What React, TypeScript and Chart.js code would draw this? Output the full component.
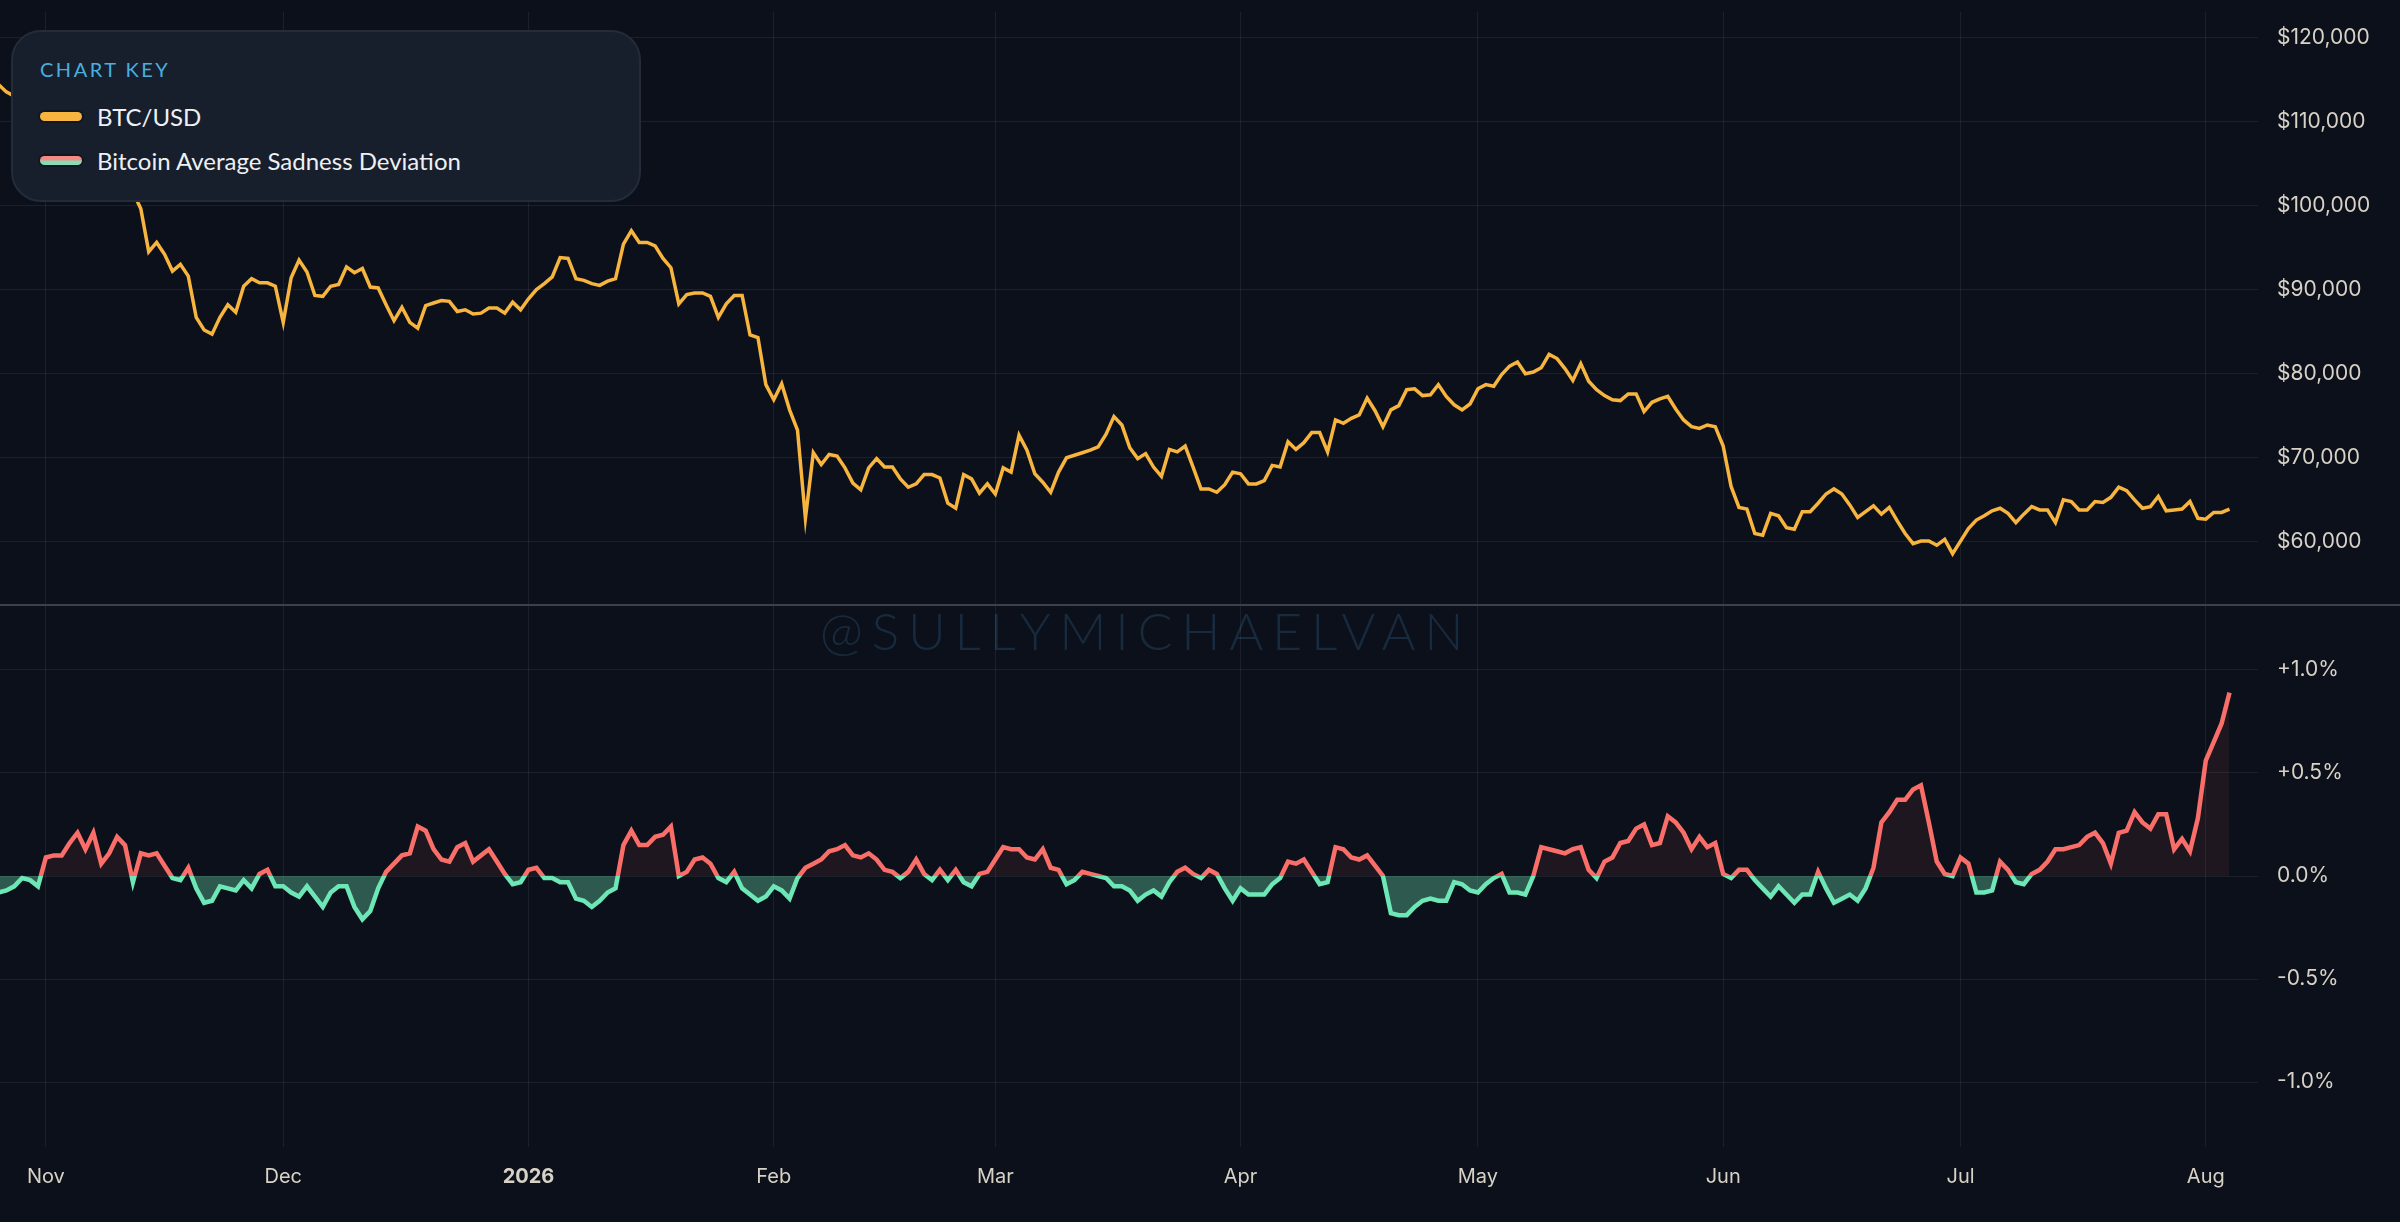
import React, { useEffect, useRef } from 'react'
import Chart, { ChartConfiguration } from 'chart.js/auto'

// day 0 = 1 Nov 2025, one point per day
const firstDay = -6
const monthTicks = [0, 30, 61, 92, 120, 151, 181, 212, 242, 273]
const monthLabels = ['Nov', 'Dec', '2026', 'Feb', 'Mar', 'Apr', 'May', 'Jun', 'Jul', 'Aug']
const priceTicks = [60000, 70000, 80000, 90000, 100000, 110000, 120000]
const sadnessTicks = [-1, -0.5, 0, 0.5, 1]

const btcOct = [114400, 113500, 113000, 110100, 108300, 109600]
const btcNov = [
  110100, 110600, 106500, 101600, 103900, 101300, 103300, 102300, 104700, 105900,
  103100, 101600, 99600, 94500, 95600, 94200, 92200, 93000, 91600, 86700,
  85200, 84700, 86700, 88200, 87300, 90400, 91300, 90800, 90800, 90400
]
const btcDec = [
  86100, 91400, 93500, 92100, 89300, 89200, 90400, 90600, 92700, 92000,
  92500, 90300, 90200, 88200, 86300, 87900, 86100, 85400, 88100, 88400,
  88700, 88600, 87400, 87600, 87100, 87200, 87800, 87800, 87200, 88500,
  87600
]
const btcJan = [
  88900, 90000, 90700, 91500, 93800, 93700, 91300, 91100, 90700, 90500,
  91000, 91300, 95400, 97000, 95600, 95600, 95200, 93700, 92600, 88300,
  89400, 89600, 89600, 89200, 86700, 88300, 89300, 89300, 84600, 84300,
  78700
]
const btcFeb = [
  76900, 78800, 75700, 73300, 62800, 70600, 69200, 70400, 70200, 68800,
  67000, 66200, 68800, 69900, 68900, 68900, 67500, 66500, 66900, 68000,
  68000, 67600, 64600, 64000, 68000, 67500, 65800, 66900
]
const btcMar = [
  65700, 68800, 68300, 72700, 70900, 68100, 67100, 65900, 68300, 70000,
  70300, 70600, 70900, 71300, 72800, 74900, 73900, 71200, 69900, 70500,
  68900, 67800, 71000, 70700, 71400, 68900, 66300, 66300, 65900, 66800,
  68300
]
const btcApr = [
  68100, 66900, 66900, 67300, 69100, 68900, 71900, 71000, 71800, 73000,
  73000, 70700, 74500, 74100, 74700, 75100, 77100, 75600, 73700, 75700,
  76200, 78100, 78200, 77400, 77500, 78700, 77300, 76300, 75700, 76400
]
const btcMay = [
  78200, 78700, 78500, 79900, 80900, 81400, 80000, 80200, 80700, 82300,
  81800, 80600, 79200, 81200, 79100, 78100, 77400, 76900, 76800, 77600,
  77600, 75500, 76600, 77000, 77300, 75800, 74500, 73700, 73500, 73900,
  73700
]
const btcJun = [
  71400, 66600, 64100, 63900, 61000, 60800, 63400, 63100, 61700, 61500,
  63600, 63600, 64600, 65700, 66300, 65700, 64400, 62900, 63600, 64300,
  63300, 64100, 62500, 61000, 59800, 60100, 60100, 59600, 60300, 58600
]
const btcJul = [
  60100, 61600, 62600, 63100, 63700, 64000, 63400, 62300, 63300, 64200,
  63800, 63800, 62300, 65000, 64800, 63800, 63800, 64800, 64700, 65300,
  66500, 66100, 65000, 64000, 64200, 65400, 63700, 63800, 63900, 64800,
  62800
]
const btcAug = [62700, 63500, 63500, 63900]

// Bitcoin Average Sadness Deviation, in percent
const sadOct = [-0.08, -0.07, -0.05, -0.01, -0.02, -0.05]
const sadNov = [
  0.09, 0.1, 0.1, 0.16, 0.21, 0.13, 0.21, 0.06, 0.11, 0.19,
  0.15, -0.03, 0.11, 0.1, 0.11, 0.05, -0.01, -0.02, 0.04, -0.06,
  -0.13, -0.12, -0.05, -0.06, -0.07, -0.02, -0.06, 0.01, 0.03, -0.05
]
const sadDec = [
  -0.05, -0.08, -0.1, -0.05, -0.1, -0.15, -0.08, -0.05, -0.05, -0.15,
  -0.21, -0.17, -0.06, 0.02, 0.06, 0.1, 0.11, 0.24, 0.22, 0.13,
  0.08, 0.07, 0.14, 0.16, 0.07, 0.1, 0.13, 0.07, 0.01, -0.04,
  -0.03
]
const sadJan = [
  0.03, 0.04, -0.01, -0.01, -0.03, -0.03, -0.11, -0.12, -0.15, -0.12,
  -0.08, -0.06, 0.15, 0.22, 0.15, 0.15, 0.19, 0.2, 0.24, 0.0,
  0.02, 0.08, 0.09, 0.06, -0.01, -0.03, 0.02, -0.06, -0.09, -0.12,
  -0.1
]
const sadFeb = [
  -0.05, -0.07, -0.11, -0.01, 0.04, 0.06, 0.08, 0.12, 0.13, 0.15,
  0.1, 0.09, 0.11, 0.08, 0.03, 0.02, -0.01, 0.02, 0.08, 0.01,
  -0.02, 0.03, -0.02, 0.03, -0.03, -0.05, 0.01, 0.02
]
const sadMar = [
  0.08, 0.14, 0.13, 0.13, 0.09, 0.08, 0.13, 0.04, 0.03, -0.04,
  -0.02, 0.02, 0.01, 0.0, -0.01, -0.05, -0.05, -0.07, -0.12, -0.09,
  -0.07, -0.1, -0.03, 0.02, 0.04, 0.01, -0.01, 0.03, 0.01, -0.06,
  -0.12
]
const sadApr = [
  -0.06, -0.09, -0.09, -0.09, -0.04, -0.01, 0.07, 0.06, 0.08, 0.02,
  -0.04, -0.03, 0.14, 0.13, 0.09, 0.08, 0.1, 0.05, 0.0, -0.18,
  -0.19, -0.19, -0.15, -0.12, -0.11, -0.12, -0.12, -0.03, -0.04, -0.07
]
const sadMay = [
  -0.08, -0.04, -0.01, 0.01, -0.08, -0.08, -0.09, 0.0, 0.14, 0.13,
  0.12, 0.11, 0.13, 0.14, 0.03, -0.01, 0.07, 0.09, 0.16, 0.17,
  0.23, 0.25, 0.15, 0.16, 0.29, 0.26, 0.21, 0.13, 0.19, 0.14,
  0.16
]
const sadJun = [
  0.01, -0.01, 0.03, 0.03, -0.02, -0.06, -0.1, -0.05, -0.09, -0.13,
  -0.09, -0.09, 0.02, -0.06, -0.13, -0.11, -0.09, -0.12, -0.06, 0.04,
  0.26, 0.31, 0.37, 0.37, 0.42, 0.44, 0.26, 0.07, 0.01, 0.0
]
const sadJul = [
  0.09, 0.06, -0.08, -0.08, -0.07, 0.07, 0.03, -0.03, -0.04, 0.01,
  0.03, 0.07, 0.13, 0.13, 0.14, 0.15, 0.19, 0.21, 0.16, 0.06,
  0.21, 0.22, 0.31, 0.26, 0.23, 0.3, 0.3, 0.13, 0.18, 0.12,
  0.28
]
const sadAug = [0.56, 0.65, 0.74, 0.89]

const btcPrice = [
  ...btcOct, ...btcNov, ...btcDec, ...btcJan, ...btcFeb, ...btcMar,
  ...btcApr, ...btcMay, ...btcJun, ...btcJul, ...btcAug
]
const sadness = [
  ...sadOct, ...sadNov, ...sadDec, ...sadJan, ...sadFeb, ...sadMar,
  ...sadApr, ...sadMay, ...sadJun, ...sadJul, ...sadAug
]

const BG = '#0b101a'
const GRID = 'rgba(255,255,255,0.07)'
const TICK = '#d8d2c6'
const ORANGE = '#f7b43f'
const RED = '#fa6e69'
const GREEN = '#6ee7b7'
const FONT = 'Inter, "Noto Sans", sans-serif'

const splitColor = (ctx: any) => {
  const chart = ctx.chart
  const area = chart.chartArea
  if (!area || !chart.scales.y2) return RED
  const zero = chart.scales.y2.getPixelForValue(0)
  const stop = Math.min(1, Math.max(0, (zero - area.top) / (area.bottom - area.top)))
  const g = chart.ctx.createLinearGradient(0, area.top, 0, area.bottom)
  g.addColorStop(0, RED)
  g.addColorStop(stop, RED)
  g.addColorStop(stop, GREEN)
  g.addColorStop(1, GREEN)
  return g
}

// no extra room for half tick labels at the panel edges
const noPadding = (scale: any) => {
  scale.paddingTop = 0
  scale.paddingBottom = 0
  scale.paddingLeft = 0
  scale.paddingRight = 0
}

const separator = {
  id: 'separator',
  afterDatasetsDraw(chart: any) {
    const y = chart.scales.y.bottom
    const c = chart.ctx
    c.save()
    c.fillStyle = '#3a414c'
    c.fillRect(0, y - 1, chart.width, 2)
    c.restore()
  }
}

const SadnessChart: React.FC = () => {
  const chartRef = useRef<HTMLCanvasElement | null>(null)

  useEffect(() => {
    if (!chartRef.current) return

    const config: ChartConfiguration<'line'> = {
      type: 'line',
      data: {
        datasets: [
          {
            label: 'BTC/USD',
            data: btcPrice.map((v, i) => ({ x: firstDay + i, y: v })),
            yAxisID: 'y',
            borderColor: ORANGE,
            borderWidth: 3.5,
            pointRadius: 0,
            tension: 0,
            fill: false
          },
          {
            label: 'Bitcoin Average Sadness Deviation',
            data: sadness.map((v, i) => ({ x: firstDay + i, y: v })),
            yAxisID: 'y2',
            borderColor: splitColor,
            borderWidth: 4.5,
            pointRadius: 0,
            tension: 0,
            fill: {
              target: { value: 0 },
              above: 'rgba(250,110,105,0.08)',
              below: 'rgba(110,231,183,0.34)'
            }
          }
        ]
      },
      options: {
        responsive: true,
        maintainAspectRatio: false,
        animation: false,
        layout: { padding: { top: 12, left: 0, right: 0, bottom: 0 } },
        plugins: {
          legend: { display: false },
          tooltip: { enabled: false }
        },
        scales: {
          x: {
            type: 'linear',
            min: -5.8,
            max: 279.6,
            grid: { color: GRID, drawTicks: false },
            border: { display: false },
            afterBuildTicks: (scale: any) => {
              scale.ticks = monthTicks.map(v => ({ value: v }))
            },
            afterFit: (scale: any) => {
              noPadding(scale)
              scale.height = 75
            },
            ticks: {
              color: TICK,
              padding: 18,
              maxRotation: 0,
              autoSkip: false,
              font: (ctx: any) => ({
                family: FONT,
                size: 20,
                weight: ctx.tick && ctx.tick.value === 61 ? 'bold' : 'normal'
              }),
              callback: (v: any) => monthLabels[monthTicks.indexOf(Number(v))] ?? ''
            }
          },
          y: {
            type: 'linear',
            position: 'right',
            stack: 'panels',
            stackWeight: 593,
            min: 52500,
            max: 123000,
            grid: { color: GRID, drawTicks: false },
            border: { display: false },
            afterBuildTicks: (scale: any) => {
              scale.ticks = priceTicks.map(v => ({ value: v }))
            },
            afterFit: (scale: any) => {
              noPadding(scale)
              scale.width = 142
            },
            ticks: {
              color: TICK,
              padding: 19,
              font: { family: FONT, size: 21 },
              callback: (v: any) => '$' + Number(v).toLocaleString('en-US')
            }
          },
          y2: {
            type: 'linear',
            position: 'right',
            stack: 'panels',
            stackWeight: 542,
            min: -1.315,
            max: 1.315,
            grid: { color: GRID, drawTicks: false },
            border: { display: false },
            afterBuildTicks: (scale: any) => {
              scale.ticks = sadnessTicks.map(v => ({ value: v }))
            },
            afterFit: (scale: any) => {
              noPadding(scale)
              scale.width = 142
            },
            ticks: {
              color: TICK,
              padding: 19,
              font: { family: FONT, size: 21 },
              callback: (v: any) => {
                const n = Number(v)
                return (n > 0 ? '+' : '') + n.toFixed(1) + '%'
              }
            }
          }
        }
      },
      plugins: [separator]
    }

    const chart = new Chart(chartRef.current, config)

    return () => {
      chart.destroy()
    }
  }, [])

  return <canvas ref={chartRef} />
}

const swatch = (background: string): React.CSSProperties => ({
  display: 'inline-block',
  width: 42,
  height: 9,
  borderRadius: 5,
  background,
  boxShadow: '0 0 0 2px rgba(0,0,0,0.25)',
  marginRight: 15
})

const legendRow: React.CSSProperties = {
  display: 'flex',
  alignItems: 'center',
  position: 'absolute',
  left: 27,
  fontSize: 24,
  color: '#eef0f3',
  whiteSpace: 'nowrap'
}

const App: React.FC = () => {
  return (
    <div
      style={{
        position: 'fixed',
        inset: 0,
        background: BG,
        overflow: 'hidden',
        fontFamily: 'Lato, "Open Sans", sans-serif'
      }}
    >
      <div
        style={{
          position: 'absolute',
          left: 1146,
          top: 630,
          transform: 'translate(-50%, -50%)',
          fontSize: 52,
          fontWeight: 300,
          letterSpacing: 8.7,
          color: '#182a3d',
          whiteSpace: 'nowrap'
        }}
      >
        @SULLYMICHAELVAN
      </div>
      <div style={{ position: 'absolute', inset: 0 }}>
        <SadnessChart />
      </div>
      <div
        style={{
          position: 'absolute',
          left: 11,
          top: 30,
          width: 630,
          height: 172,
          boxSizing: 'border-box',
          borderRadius: 30,
          background: '#171f2d',
          border: '2px solid #242c3a'
        }}
      >
        <div
          style={{
            position: 'absolute',
            left: 27,
            top: 25,
            fontSize: 20,
            letterSpacing: 2.5,
            color: '#4aaede'
          }}
        >
          CHART KEY
        </div>
        <div style={{ ...legendRow, top: 70 }}>
          <span style={swatch(ORANGE)} />
          BTC/USD
        </div>
        <div style={{ ...legendRow, top: 114 }}>
          <span
            style={swatch('linear-gradient(to bottom, #f48a84 0%, #f48a84 45%, #86dcb5 55%, #86dcb5 100%)')}
          />
          Bitcoin Average Sadness Deviation
        </div>
      </div>
    </div>
  )
}

export default App
